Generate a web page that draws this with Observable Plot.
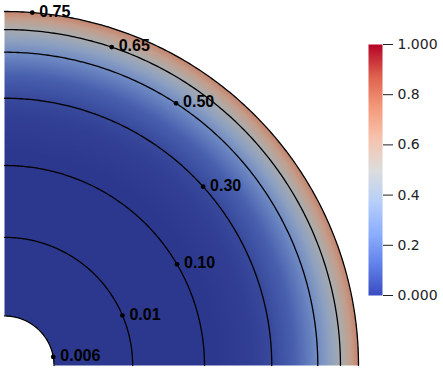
<!DOCTYPE html>
<html>
<head>
<meta charset="utf-8">
<script src="https://cdn.jsdelivr.net/npm/d3@7"></script>
<script src="https://cdn.jsdelivr.net/npm/@observablehq/plot@0.6"></script>
<style>
  html, body { margin: 0; padding: 0; background: #fff; }
  #wrap { position: relative; width: 443px; height: 371px; overflow: hidden; }
  #wrap > div, #wrap > svg { position: absolute; top: 0; }
  svg { overflow: visible; }
</style>
</head>
<body>
<div id="wrap"></div>
<script>
// ---- data ----
const levels      = [0.006, 0.01, 0.10, 0.30, 0.50, 0.65, 0.75];      // contour values
const levelRadii  = [0.14, 0.362, 0.565, 0.755, 0.885, 0.949, 1.0];   // radius (outer = 1)
const labelTexts  = ["0.006", "0.01", "0.10", "0.30", "0.50", "0.65", "0.75"];
const labelAngles = [10, 23, 30.4, 42, 56.8, 71.4, 85.5];              // degrees
// colour field (value shown by the colour map) read along the radius
const colorRadii  = [0.14, 0.60, 0.70, 0.755, 0.82, 0.885, 0.92, 0.949, 0.975, 1.0];
const colorValues = [0.0,  0.0,  0.02, 0.05,  0.12, 0.27,  0.38, 0.48,  0.60,  0.72];
const colorbarTicks = [0, 0.2, 0.4, 0.6, 0.8, 1.0];
const colorbarTickLabels = ["0.000", "0.2", "0.4", "0.6", "0.8", "1.000"];
const colorDomain = [0, 0.125, 0.25, 0.375, 0.5, 0.625, 0.75, 0.875, 1];

// ---- styles ----
const coolwarm = ["#3b4cc0", "#6282ea", "#8db0fe", "#b8d0f9", "#dddddd", "#f5c4ad", "#f49a7b", "#de604d", "#b40426"];
const shadeAmount = [0.85, 0.8, 0.75, 0.72, 0.7, 0.62, 0.6, 0.6, 0.6];
const shaded = coolwarm.map((c, i) => d3.rgb(c).darker(shadeAmount[i]).formatHex());

const rInner = levelRadii[0], rOuter = levelRadii[levelRadii.length - 1];
const profile = d3.scaleLinear().domain(colorRadii).range(colorValues).clamp(true);
const field = (x, y) => {
  const r = Math.hypot(x, y);
  return (r < rInner || r > rOuter) ? NaN : profile(r);
};

const arcs = levels.flatMap((lv, i) =>
  d3.range(0, 90.25, 0.5).map(a => ({
    level: lv,
    x: levelRadii[i] * Math.cos(a * Math.PI / 180),
    y: levelRadii[i] * Math.sin(a * Math.PI / 180)
  })));
const labels = levels.map((lv, i) => ({
  text: labelTexts[i],
  x: levelRadii[i] * Math.cos(labelAngles[i] * Math.PI / 180),
  y: levelRadii[i] * Math.sin(labelAngles[i] * Math.PI / 180)
}));

const main = Plot.plot({
  width: 443, height: 371,
  marginLeft: 4, marginRight: 85, marginTop: 11, marginBottom: 6,
  x: {domain: [0, 1], axis: null},
  y: {domain: [0, 1], axis: null},
  color: {type: "linear", domain: colorDomain, range: shaded, interpolate: "rgb"},
  marks: [
    Plot.raster({x1: 0, x2: 1, y1: 0, y2: 1, fill: field, pixelSize: 1}),
    Plot.line(arcs, {x: "x", y: "y", z: "level", stroke: "black", strokeWidth: 1.3}),
    Plot.dot(labels, {x: "x", y: "y", r: 2.4, fill: "black", stroke: "none"}),
    Plot.text(labels, {x: "x", y: "y", text: "text", dx: 7, dy: -1, textAnchor: "start",
      fontSize: 16, fontWeight: "bold", fontFamily: "Liberation Sans, Arial, sans-serif", fill: "black"})
  ]
});
main.style.left = "0px";
document.getElementById("wrap").appendChild(main);

const bar = Plot.plot({
  width: 83, height: 371,
  marginLeft: 8, marginRight: 61, marginTop: 44, marginBottom: 76,
  x: {domain: [0, 1], axis: null},
  y: {domain: [0, 1], axis: null},
  color: {type: "linear", domain: colorDomain, range: coolwarm, interpolate: "rgb"},
  marks: [
    Plot.raster({x1: 0, x2: 1, y1: 0, y2: 1, fill: (x, y) => y, pixelSize: 1}),
    Plot.axisY(colorbarTicks, {
      anchor: "right", tickSize: 10, tickPadding: 5,
      tickFormat: d => colorbarTickLabels[colorbarTicks.indexOf(d)],
      fontSize: 14, fontFamily: "DejaVu Sans, sans-serif", fill: "#222", stroke: "#222"
    })
  ]
});
bar.style.left = "360px";
document.getElementById("wrap").appendChild(bar);
</script>
</body>
</html>
